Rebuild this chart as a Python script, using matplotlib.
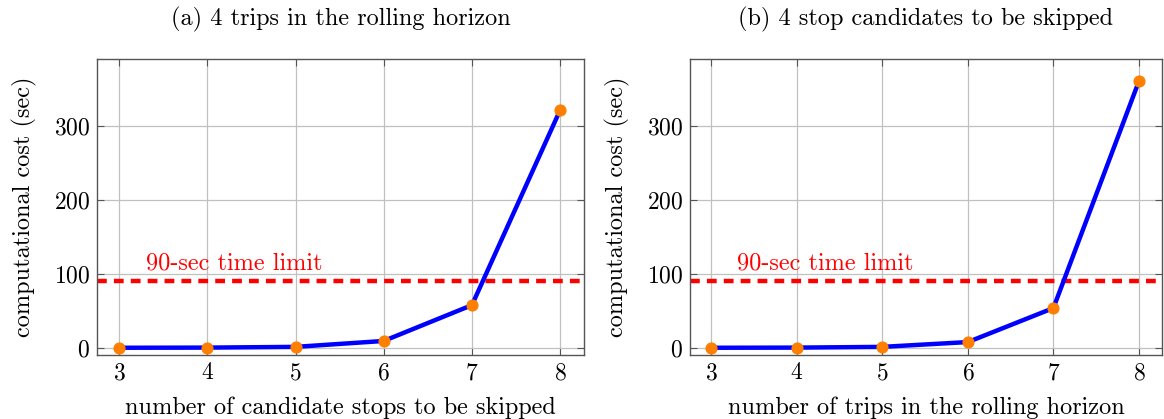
import numpy as np
import matplotlib.pyplot as plt

plt.rcParams["font.family"] = "serif"
plt.rcParams["font.serif"] = ["cmr10", "DejaVu Serif"]
plt.rcParams["axes.formatter.use_mathtext"] = True
plt.rcParams["mathtext.fontset"] = "cm"

x_vals = [3, 4, 5, 6, 7, 8]
cost_stops = [0.3, 0.5, 1.5, 9.5, 58, 322]
cost_trips = [0.3, 0.5, 1.5, 8, 54, 361]
limit = 90
titles = ["(a) 4 trips in the rolling horizon", "(b) 4 stop candidates to be skipped"]
xlabels = ["number of candidate stops to be skipped", "number of trips in the rolling horizon"]
series = [cost_stops, cost_trips]

fig = plt.figure(figsize=(11.64, 4.19), dpi=100)
boxes = [[97/1164, 64/419, 487/1164, 296/419], [690/1164, 64/419, 472/1164, 296/419]]

for i in range(2):
    ax = fig.add_axes(boxes[i])
    ax.grid(True, color="#c0c0c0", linewidth=0.9)
    ax.set_axisbelow(True)
    ax.plot([2.75, 8.27], [limit, limit], color="red", linestyle=(0, (2.2, 1.6)), linewidth=3.2)
    ax.text(3.3, 106, "90-sec time limit", color="red", fontsize=17.5)
    ax.plot(x_vals, series[i], color="blue", linewidth=3.2, zorder=3)
    ax.scatter(x_vals, series[i], color="#ff7f00", s=60, zorder=4)
    ax.set_xlim(2.75, 8.27)
    ax.set_ylim(-9.5, 391)
    ax.set_xticks(x_vals)
    ax.set_yticks([0, 100, 200, 300])
    ax.tick_params(direction="in", top=True, right=True, labelsize=17, length=5, color="#555555", pad=5)
    for s in ax.spines.values():
        s.set_color("#555555")
        s.set_linewidth(1.0)
    ax.set_xlabel(xlabels[i], fontsize=17.5, labelpad=9)
    ax.set_ylabel("computational cost (sec)", fontsize=17.5, labelpad=12)
    ax.set_title(titles[i], fontsize=17.5, pad=24)

fig.savefig("out.png", dpi=100)
